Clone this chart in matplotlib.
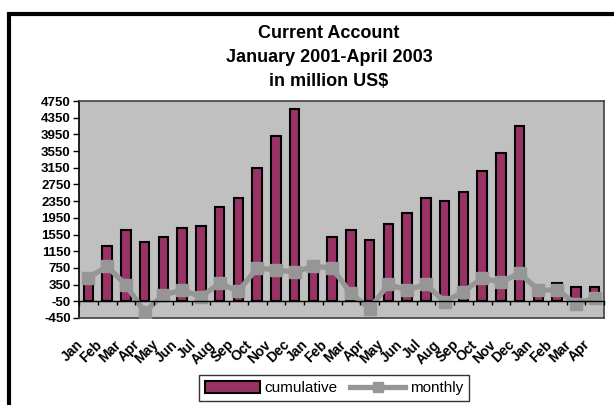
import numpy as np
import matplotlib
matplotlib.use("Agg")
import matplotlib.pyplot as plt
from matplotlib.patches import Rectangle
from matplotlib.lines import Line2D
from matplotlib.transforms import ScaledTranslation

plt.rcParams['font.family'] = ['Liberation Sans', 'DejaVu Sans']

months = ['Jan', 'Feb', 'Mar', 'Apr', 'May', 'Jun', 'Jul', 'Aug', 'Sep', 'Oct', 'Nov', 'Dec',
          'Jan', 'Feb', 'Mar', 'Apr', 'May', 'Jun', 'Jul', 'Aug', 'Sep', 'Oct', 'Nov', 'Dec',
          'Jan', 'Feb', 'Mar', 'Apr']
# year-to-date cumulative current account, million US$
cumulative = [520, 1270, 1650, 1370, 1490, 1700, 1765, 2200, 2420, 3155, 3915, 4570,
              800, 1500, 1660, 1410, 1800, 2055, 2430, 2360, 2580, 3075, 3510, 4155,
              230, 400, 285, 290]
monthly = [520, 785, 345, -305, 100, 220, 60, 380, 195, 745, 705, 650,
           790, 745, 140, -225, 355, 220, 355, -60, 180, 505, 405, 625,
           220, 220, -105, 20]
yticks = list(range(-450, 4751, 400))
axis_cross = -50

fig = plt.figure(figsize=(6.14, 4.05), dpi=100)
fig.patch.set_facecolor('white')

# outer chart frame (cropped on right and bottom)
fig.patches.append(Rectangle((9 / 614, -0.1), 1.2, 1 - 14 / 405 + 0.1,
                             transform=fig.transFigure, fill=False,
                             edgecolor='black', lw=3))

ax = fig.add_axes([79 / 614, 1 - 318 / 405, 525 / 614, 217 / 405])
ax.set_facecolor('#C0C0C0')

x = np.arange(len(months))
heights = np.array(cumulative) - axis_cross
ax.bar(x, heights, bottom=axis_cross, width=0.5, color='#993366',
       edgecolor='black', linewidth=1.5, zorder=2, label='cumulative')
ax.plot(x, monthly, color='#969696', lw=3.8, marker='s', markersize=9,
        zorder=3, label='monthly')

ax.set_xlim(-0.5, len(months) - 0.5)
ax.set_ylim(yticks[0], yticks[-1])
ax.set_yticks(yticks)
ax.set_yticklabels([str(v) for v in yticks], fontsize=9.5, fontweight='bold')
ax.tick_params(axis='y', direction='out', length=4, width=1, pad=2)

ax.set_xticks(x)
ax.set_xticklabels(months, rotation=45, ha='right', rotation_mode='anchor',
                   fontsize=10, fontweight='bold')
ax.tick_params(axis='x', length=0, pad=14)
shift = ScaledTranslation(-0.12, 0, fig.dpi_scale_trans)
for lab in ax.get_xticklabels():
    lab.set_transform(lab.get_transform() + shift)

for s in ['top', 'right', 'bottom']:
    ax.spines[s].set_color('#404040')
    ax.spines[s].set_linewidth(1.2)
ax.spines['left'].set_color('black')
ax.spines['left'].set_linewidth(1.2)

# category axis crossing at -50 with tick marks between categories
ax2 = ax.twiny()
ax2.set_xlim(ax.get_xlim())
ax2.spines['top'].set_visible(False)
ax2.spines['left'].set_visible(False)
ax2.spines['right'].set_visible(False)
ax2.spines['bottom'].set_position(('data', axis_cross))
ax2.spines['bottom'].set_color('black')
ax2.spines['bottom'].set_linewidth(1)
ax2.xaxis.set_ticks_position('bottom')
ax2.set_xticks(np.arange(-0.5, len(months), 1.0))
ax2.set_xticklabels([])
ax2.tick_params(axis='x', direction='out', length=3, width=1)

for txt, ypix in [('Current Account', 33), ('January 2001-April 2003', 58),
                  ('in million US$', 82)]:
    fig.text(0.536, 1 - ypix / 405, txt, ha='center', va='center',
             fontsize=13, fontweight='bold')

handles = [Rectangle((0, 0), 1, 1, facecolor='#993366', edgecolor='black', lw=1.5),
           Line2D([], [], color='#969696', lw=3.8, marker='s', markersize=7)]
leg = fig.legend(handles, ['cumulative', 'monthly'], loc='upper left',
                 bbox_to_anchor=(199 / 614, 1 - 375 / 405), ncol=2, frameon=True,
                 fancybox=False, edgecolor='black', fontsize=11,
                 handlelength=3.6, handleheight=0.8, columnspacing=0.8,
                 handletextpad=0.3, borderpad=0.4, borderaxespad=0)
leg.get_frame().set_linewidth(1)

fig.savefig('out.png', dpi=100)
